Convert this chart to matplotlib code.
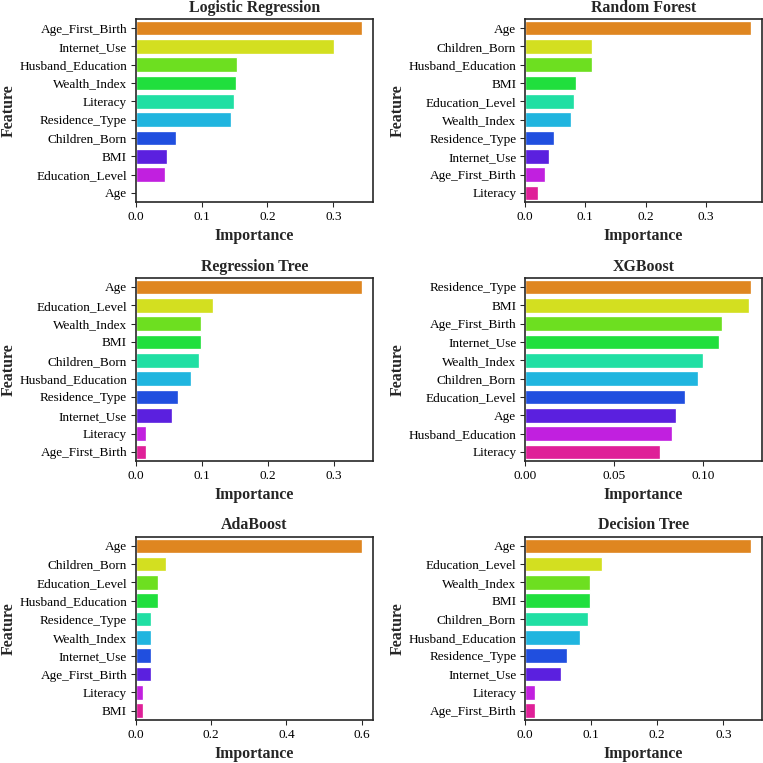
import matplotlib
matplotlib.use("Agg")
import matplotlib.pyplot as plt
import seaborn as sns
import numpy as np

sns.set_style("ticks")
plt.rcParams['font.family'] = ['Liberation Serif', 'DejaVu Serif']

lr_features = ["Age_First_Birth", "Internet_Use", "Husband_Education", "Wealth_Index",
               "Literacy", "Residence_Type", "Children_Born", "BMI", "Education_Level", "Age"]
lr_values = [0.343, 0.301, 0.153, 0.152, 0.1495, 0.145, 0.0605, 0.0467, 0.044, 0.001]

rf_features = ["Age", "Children_Born", "Husband_Education", "BMI", "Education_Level",
               "Wealth_Index", "Residence_Type", "Internet_Use", "Age_First_Birth", "Literacy"]
rf_values = [0.374, 0.111, 0.1107, 0.0847, 0.0808, 0.0764, 0.0476, 0.0404, 0.0338, 0.0221]

rt_features = ["Age", "Education_Level", "Wealth_Index", "BMI", "Children_Born",
               "Husband_Education", "Residence_Type", "Internet_Use", "Literacy", "Age_First_Birth"]
rt_values = [0.3414, 0.1168, 0.0991, 0.0991, 0.0956, 0.084, 0.0637, 0.0546, 0.0157, 0.0157]

xgb_features = ["Residence_Type", "BMI", "Age_First_Birth", "Internet_Use", "Wealth_Index",
                "Children_Born", "Education_Level", "Age", "Husband_Education", "Literacy"]
xgb_values = [0.1266, 0.1257, 0.1103, 0.1088, 0.0996, 0.0972, 0.0897, 0.0846, 0.0824, 0.076]

ada_features = ["Age", "Children_Born", "Education_Level", "Husband_Education", "Residence_Type",
                "Wealth_Index", "Internet_Use", "Age_First_Birth", "Literacy", "BMI"]
ada_values = [0.60, 0.08, 0.06, 0.06, 0.04, 0.04, 0.04, 0.04, 0.02, 0.02]

dt_features = ["Age", "Education_Level", "Wealth_Index", "BMI", "Children_Born",
               "Husband_Education", "Residence_Type", "Internet_Use", "Literacy", "Age_First_Birth"]
dt_values = [0.3414, 0.1168, 0.0991, 0.0991, 0.0956, 0.084, 0.0637, 0.0546, 0.0157, 0.0157]

titles = ["Logistic Regression", "Random Forest", "Regression Tree", "XGBoost", "AdaBoost", "Decision Tree"]
panels = [(lr_features, lr_values), (rf_features, rf_values), (rt_features, rt_values),
          (xgb_features, xgb_values), (ada_features, ada_values), (dt_features, dt_values)]

colors = [sns.desaturate(c, 0.75) for c in sns.color_palette("hsv", 10)]

fig, axes = plt.subplots(3, 2, figsize=(8, 8), dpi=95.375)
fig.subplots_adjust(left=0.178, right=0.9987, top=0.9752, bottom=0.0565,
                    wspace=0.641, hspace=0.413)

for ax, title, (feats, vals) in zip(axes.flat, titles, panels):
    y = np.arange(len(feats))
    ax.barh(y, vals, height=0.8, color=colors, edgecolor="white", linewidth=1.0)
    ax.set_yticks(y)
    ax.set_yticklabels(feats, fontsize=10, color='black')
    ax.set_ylim(len(feats) - 0.5, -0.5)
    ax.tick_params(axis='x', labelsize=10, labelcolor='black', pad=3.5)
    ax.tick_params(axis='y', pad=3)
    ax.set_title(title, fontsize=12, fontweight='bold', pad=5.5)
    ax.set_xlabel("Importance", fontsize=12, fontweight='bold', labelpad=3.5)
    ax.set_ylabel("Feature", fontsize=12, fontweight='bold', labelpad=2)
    for s in ax.spines.values():
        s.set_color('.15')
        s.set_linewidth(1.25)

axes[1, 1].set_xticks([0.0, 0.05, 0.10])
axes[1, 1].set_xticklabels(["0.00", "0.05", "0.10"])

fig.savefig("out.png", dpi=95.375)
